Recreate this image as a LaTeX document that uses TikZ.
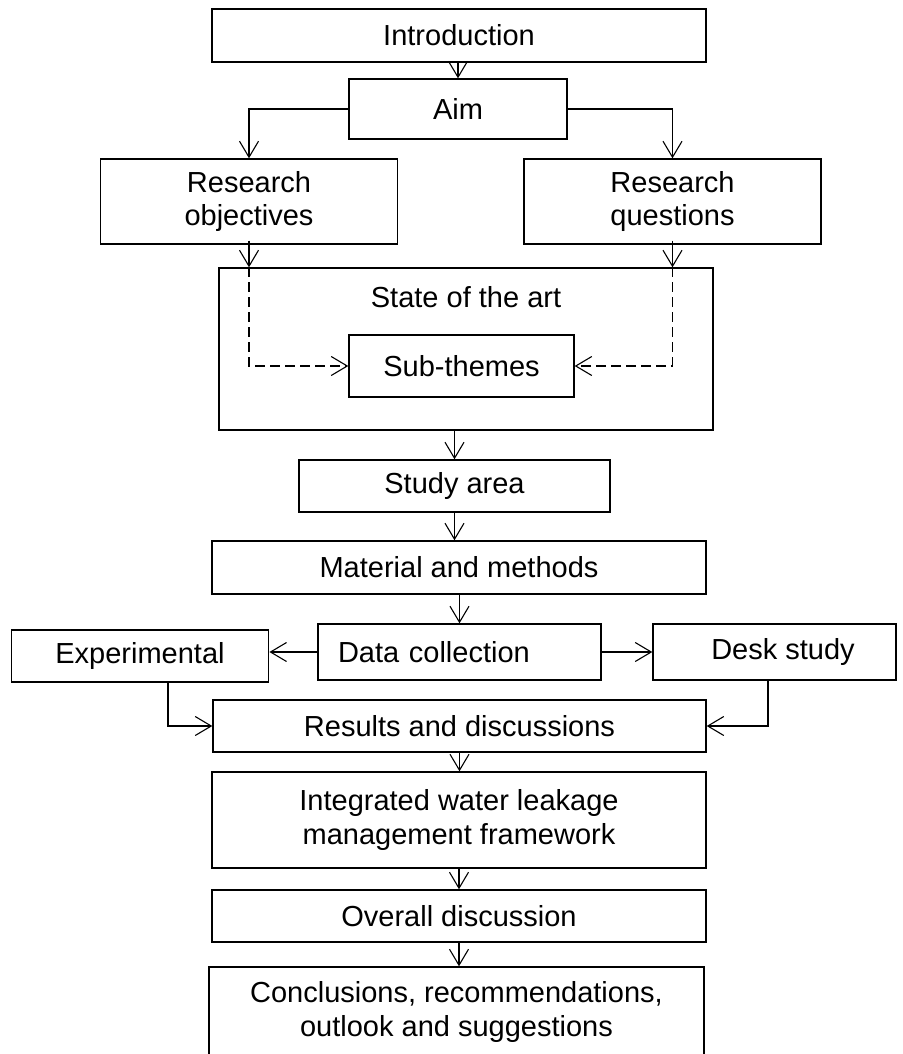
\documentclass[tikz,border=0pt]{standalone}
\usepackage{fontspec}
\setmainfont{Liberation Sans}
\usetikzlibrary{arrows.meta}
\tikzset{
  boxnode/.style={draw, line width=1.4pt, rectangle, inner sep=0pt, align=center,
    font=\fontsize{29pt}{33.5pt}\selectfont},
  arr/.style={line width=1.1pt, -{Straight Barb[length=16pt,width=19pt,line width=1.1pt]}},
  darr/.style={arr, dash pattern=on 10pt off 5pt},
  plainline/.style={line width=1.1pt}
}
\begin{document}
\begin{tikzpicture}[x=1pt,y=-1pt]
\useasboundingbox (0,0) rectangle (902,1054);
\clip (0,0) rectangle (902,1054);
\fill[white] (0,0) rectangle (902,1054);

\node[boxnode, minimum width=494pt, minimum height=53pt] (intro) at (459,35.5) {Introduction};
\node[boxnode, minimum width=218pt, minimum height=60pt] (aim) at (458,109) {Aim};
\node[boxnode, minimum width=297pt, minimum height=85pt] (ro) at (249,201.5) {Research\\objectives};
\node[boxnode, minimum width=297pt, minimum height=85pt] (rq) at (672.5,201.5) {Research\\questions};
\node[boxnode, minimum width=494pt, minimum height=162pt] (state) at (466,349) {};
\node[font=\fontsize{29pt}{33.5pt}\selectfont, inner sep=0pt] (statetxt) at (466,297) {State of the art};
\node[boxnode, minimum width=225pt, minimum height=62pt] (sub) at (461.5,366) {Sub-themes};
\node[boxnode, minimum width=311pt, minimum height=52pt] (study) at (454.5,486) {Study area};
\node[boxnode, minimum width=494pt, minimum height=53pt] (mat) at (459,567.5) {Material and methods};
\node[boxnode, text width=243pt, inner xsep=20pt, align=left, minimum height=56pt] (dc) at (459.5,652) {Data collection};
\node[boxnode, minimum width=257.5pt, minimum height=52pt] (exp) at (140,656) {Experimental};
\node[boxnode, minimum width=243pt, minimum height=56pt] (desk) at (774.5,652) {\hspace*{17pt}Desk study};
\node[boxnode, minimum width=493pt, minimum height=52pt] (res) at (459.5,726) {Results and discussions};
\node[boxnode, minimum width=494pt, minimum height=96pt] (integ) at (459,820) {Integrated water leakage\\management framework};
\node[boxnode, minimum width=494pt, minimum height=52pt] (overall) at (459,916) {Overall discussion};
\node[boxnode, minimum width=495pt, minimum height=90pt] (concl) at (456.5,1012) {Conclusions, recommendations,\\outlook and suggestions};

% connectors
\draw[arr] (aim.north |- intro.south) -- (aim.north);
\draw[arr] (aim.west) -| (ro.north);
\draw[arr] (aim.east) -| (rq.north);
\draw[arr] ([yshift=4pt]ro.south) -- (ro.south |- state.north);
\draw[arr] ([yshift=4pt]rq.south) -- (rq.south |- state.north);
\draw[darr] (ro.south |- state.north) |- (sub.west);
\draw[darr] (rq.south |- state.north) |- (sub.east);
\draw[arr] (study.north |- state.south) -- (study.north);
\draw[arr] (study.south) -- (study.south |- mat.north);
\draw[arr] (dc.north |- mat.south) -- (dc.north);
\draw[arr] (dc.west) -- (dc.west -| exp.east);
\draw[arr] (dc.east) -- (desk.west);
\draw[arr] ([xshift=28pt]exp.south) |- (res.west);
\draw[arr] ([xshift=-6.5pt]desk.south) |- (res.east);
\draw[arr] (res.south) -- (res.south |- integ.north);
\draw[arr] (integ.south) -- (integ.south |- overall.north);
\draw[arr] (overall.south) -- (overall.south |- concl.north);
\end{tikzpicture}
\end{document}
